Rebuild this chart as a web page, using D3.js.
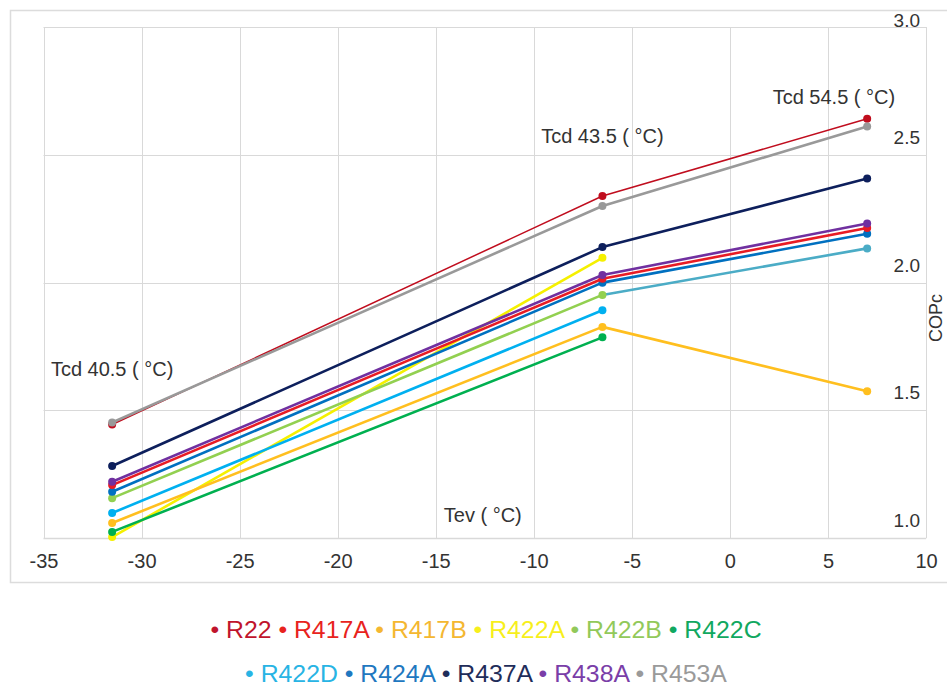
<!DOCTYPE html>
<html>
<head>
<meta charset="utf-8">
<script src="https://cdn.jsdelivr.net/npm/d3@7/dist/d3.min.js"></script>
<style>
  html, body { margin: 0; padding: 0; background: #fff; }
  svg { display: block; font-family: "Liberation Sans", Arial, sans-serif; }
</style>
</head>
<body>
<svg id="chart" width="947" height="689"></svg>
<script>
// Evaporating temperatures (°C) at which COPc was evaluated
const tevPoints = [-31.5, -6.5, 7];

// Refrigerants and their COPc at each evaporating temperature (null = not measured)
const refrigerants = ["R22", "R417A", "R417B", "R422A", "R422B", "R422C",
                      "R422D", "R424A", "R437A", "R438A", "R453A"];
const copR22   = [1.445, 2.339, 2.641];
const copR417A = [1.208, 2.015, 2.214];
const copR417B = [1.060, 1.827, 1.575];
const copR422A = [1.005, 2.097, null];
const copR422B = [1.157, 1.952, 2.134];
const copR422C = [1.025, 1.786, null];
const copR422D = [1.099, 1.892, null];
const copR424A = [1.182, 2.000, 2.191];
const copR437A = [1.283, 2.139, 2.407];
const copR438A = [1.221, 2.030, 2.231];
const copR453A = [1.453, 2.300, 2.611];

// Condensing temperature for each test column
const tcdLabels = ["Tcd 40.5 ( °C)", "Tcd 43.5 ( °C)", "Tcd 54.5 ( °C)"];

// Axis ticks
const xTicks = [-35, -30, -25, -20, -15, -10, -5, 0, 5, 10];
const yTicks = [1.0, 1.5, 2.0, 2.5, 3.0];

// Styling per refrigerant
const colors = {
  R22: "#c00d1e", R417A: "#e81c24", R417B: "#ffbf1f", R422A: "#f5f000",
  R422B: "#92d050", R422C: "#00b050", R422D: "#00b0f0", R424A: "#0070c0",
  R437A: "#0d1f5c", R438A: "#7030a0", R453A: "#999999"
};
const legendColors = {
  R22: "#c0142c", R417A: "#e8231d", R417B: "#f4b731", R422A: "#f7ef1c",
  R422B: "#92c95a", R422C: "#10a860", R422D: "#28b4e4", R424A: "#1f78c0",
  R437A: "#1f2d5a", R438A: "#7a3ea8", R453A: "#9a9a9a"
};
const lineWidths = { R22: 1.5 };
// Warm-side segment of R422B is plotted in a separate teal tone
const tailColors = { R422B: "#4bacc6" };

const values = {
  R22: copR22, R417A: copR417A, R417B: copR417B, R422A: copR422A,
  R422B: copR422B, R422C: copR422C, R422D: copR422D, R424A: copR424A,
  R437A: copR437A, R438A: copR438A, R453A: copR453A
};
// drawing order (later on top)
const drawOrder = ["R422A", "R422C", "R417B", "R422D", "R422B", "R424A",
                   "R417A", "R438A", "R437A", "R22", "R453A"];

const svg = d3.select("#chart");

// outer panel
svg.append("rect").attr("x", 10.5).attr("y", 10.5).attr("width", 950).attr("height", 572)
  .attr("fill", "#fff").attr("stroke", "#dcdcdc").attr("stroke-width", 1.5);

const x = d3.scaleLinear().domain([-35, 10]).range([43.5, 926]);
const y = d3.scaleLinear().domain([1, 3]).range([538.3, 27]);

// gridlines
const grid = svg.append("g");
grid.selectAll("line.v").data(xTicks).join("line")
  .attr("x1", d => Math.round(x(d)) + 0.5).attr("x2", d => Math.round(x(d)) + 0.5)
  .attr("y1", y(3)).attr("y2", y(1))
  .attr("stroke", "#d9d9d9").attr("stroke-width", 1);
grid.selectAll("line.h").data(yTicks).join("line")
  .attr("x1", x(-35)).attr("x2", x(10))
  .attr("y1", d => Math.round(y(d)) + 0.5).attr("y2", d => Math.round(y(d)) + 0.5)
  .attr("stroke", "#d9d9d9").attr("stroke-width", d => d === 1 ? 1.5 : 1);

// bottom axis labels
const xAxis = d3.axisBottom(x).tickValues(xTicks).tickSize(0).tickPadding(0)
  .tickFormat(d => d3.format("d")(d).replace("−", "-"));
const gx = svg.append("g").attr("transform", `translate(0,${y(1)})`).call(xAxis);
gx.select(".domain").remove();
gx.selectAll("text").attr("y", 30).attr("dy", 0)
  .attr("font-size", 20).attr("fill", "#333")
  .attr("font-family", "'Liberation Sans', Arial, sans-serif");

// right-side value labels, drawn inside the plot above each gridline
const yAxis = d3.axisRight(y).tickValues(yTicks).tickSize(0).tickFormat(d3.format(".1f"));
const gy = svg.append("g").call(yAxis);
gy.select(".domain").remove();
gy.selectAll(".tick").attr("transform", d => `translate(0,${Math.max(y(d) - 11, 27)})`);
gy.selectAll("text").attr("x", 920).attr("dy", 0).attr("text-anchor", "end")
  .attr("font-size", 19).attr("fill", "#333")
  .attr("font-family", "'Liberation Sans', Arial, sans-serif");

// series
const plot = svg.append("g");
drawOrder.forEach(name => {
  const vals = values[name];
  const pts = tevPoints.map((t, i) => ({ t, v: vals[i], i })).filter(p => p.v != null);
  const lw = lineWidths[name] || 2.6;
  for (let k = 0; k < pts.length - 1; k++) {
    const a = pts[k], b = pts[k + 1];
    const col = (k === pts.length - 2 && k > 0 && tailColors[name]) ? tailColors[name] : colors[name];
    plot.append("path")
      .attr("d", d3.line().x(p => x(p.t)).y(p => y(p.v))([a, b]))
      .attr("fill", "none").attr("stroke", col).attr("stroke-width", lw)
      .attr("stroke-linecap", "round");
  }
  plot.selectAll(null).data(pts).join("circle")
    .attr("cx", p => x(p.t)).attr("cy", p => y(p.v)).attr("r", 4)
    .attr("fill", p => (p.i === 2 && tailColors[name]) ? tailColors[name] : colors[name]);
});

// condensing temperature annotations
const tcdAnchors = [
  { t: -31.5, v: 1.636, anchor: "middle", dx: 0 },
  { t: -6.5, v: 2.545, anchor: "middle", dx: 0 },
  { t: 7, v: 2.697, anchor: "end", dx: 28 }
];
svg.append("g").selectAll("text").data(tcdLabels).join("text")
  .attr("x", (d, i) => x(tcdAnchors[i].t) + tcdAnchors[i].dx)
  .attr("y", (d, i) => y(tcdAnchors[i].v))
  .attr("text-anchor", (d, i) => tcdAnchors[i].anchor)
  .attr("font-size", 20).attr("fill", "#333")
  .text(d => d);

// axis titles
svg.append("text").attr("x", x(-12.6)).attr("y", 522).attr("text-anchor", "middle")
  .attr("font-size", 20).attr("fill", "#333").text("Tev ( °C)");
svg.append("text").attr("transform", "translate(942,318) rotate(-90)")
  .attr("text-anchor", "middle").attr("font-size", 18).attr("fill", "#333").text("COPc");

// legend, two centred rows
const legendRows = [refrigerants.slice(0, 6), refrigerants.slice(6)];
const legendY = [638, 682];
legendRows.forEach((row, r) => {
  const t = svg.append("text").attr("x", 486).attr("y", legendY[r])
    .attr("text-anchor", "middle").attr("font-size", 24.8);
  row.forEach((name, i) => {
    t.append("tspan").attr("fill", legendColors[name])
      .text((i > 0 ? " " : "") + "• " + name);
  });
});
</script>
</body>
</html>
